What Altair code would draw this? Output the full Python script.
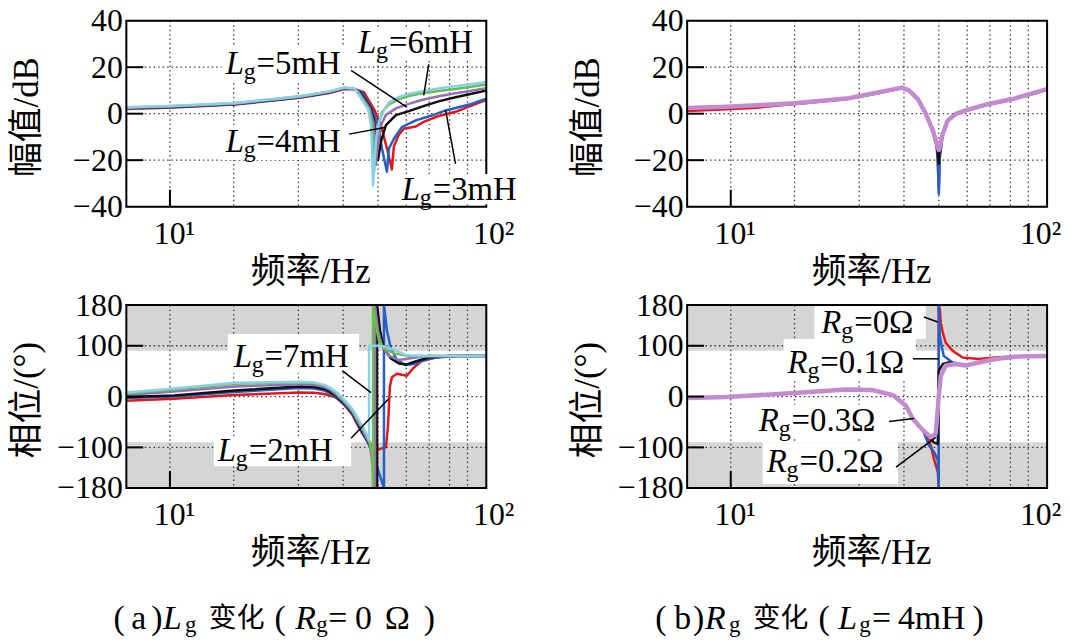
import altair as alt
import pandas as pd

FONT = "Liberation Serif, Noto Sans CJK SC"
W = 362
H_MAG = 187
H_PH = 184
X_DOMAIN = [7.28, 100]
X_GRID = [10, 15.91, 25.47, 35.28, 45.46, 55.88, 66.01, 76.56, 87.22]
X_TICKS = [10, 100]
MAG_DOMAIN = [-40, 40]
MAG_TICKS = [-40, -20, 0, 20, 40]
MAG_GRID = [-20, 0, 20]
PH_DOMAIN = [-180, 180]
PH_TICKS = [-180, -100, 0, 100, 180]
PH_GRID = [-100, 0, 100]
BAND_LO = [90, -180]
BAND_HI = [180, -90]

RED, BLUE, BLACK = "#e3161c", "#2260c8", "#111111"
PURPLE, GREEN, CYAN, PINK = "#9a6db5", "#66c04a", "#86d0ee", "#c48ad0"

# ---------------- (a) magnitude, Lg = 2..7 mH ----------------
a_mag_f_7 = [7.28, 10.30, 16.03, 25.66, 31.88, 35.53, 38.21, 39.04, 42.29, 43.21, 43.54, 43.85, 44.81, 45.80, 47.49, 49.24, 52.93, 56.90, 62.52, 70.70, 79.95, 89.80, 100]
a_mag_db_7 = [2.8, 3.4, 4.6, 7.5, 9.6, 11.3, 10.9, 9.2, 2.0, -5.0, -15.0, -31.0, -11.0, -3.6, 1.5, 4.9, 7.2, 8.5, 9.6, 10.9, 11.8, 12.7, 13.6]
a_mag_f_6 = [7.28, 10.30, 16.03, 25.66, 31.88, 35.53, 38.21, 39.33, 42.60, 43.54, 43.85, 44.18, 44.81, 45.80, 46.80, 49.24, 52.93, 56.90, 62.52, 70.70, 79.95, 89.80, 100]
a_mag_db_6 = [2.7, 3.3, 4.5, 7.4, 9.5, 11.2, 10.8, 9.2, 2.0, -5.0, -15.0, -25.0, -12.0, -4.0, 0.7, 4.0, 6.3, 7.6, 8.8, 9.8, 10.6, 11.6, 12.6]
a_mag_f_5 = [7.28, 10.30, 16.03, 25.66, 31.88, 35.53, 38.21, 39.62, 42.90, 44.18, 44.49, 44.81, 45.46, 46.45, 48.17, 51.80, 56.90, 62.52, 70.70, 79.95, 89.80, 100]
a_mag_db_5 = [2.5, 3.1, 4.3, 7.2, 9.3, 11.0, 10.7, 9.2, 2.0, -5.0, -12.0, -22.0, -12.0, -5.0, -0.5, 2.3, 4.2, 5.9, 7.5, 8.8, 9.9, 11.0]
a_mag_f_4 = [7.28, 10.30, 16.03, 25.66, 31.88, 35.53, 38.21, 39.91, 43.21, 44.49, 45.15, 45.46, 46.45, 48.17, 51.80, 56.90, 64.36, 70.70, 79.95, 89.80, 100]
a_mag_db_4 = [2.4, 3.0, 4.2, 7.1, 9.2, 10.9, 10.7, 9.2, 2.0, -5.0, -15.0, -20.0, -12.0, -4.9, -0.6, 1.1, 3.6, 5.3, 7.1, 8.6, 10.0]
a_mag_f_3 = [7.28, 10.30, 16.03, 25.66, 31.88, 35.53, 38.21, 40.49, 43.54, 45.46, 46.80, 48.53, 49.24, 51.05, 54.09, 59.87, 67.22, 74.37, 89.80, 100]
a_mag_db_3 = [2.3, 2.9, 4.1, 7.0, 9.1, 10.8, 10.6, 9.2, 2.0, -5.0, -15.0, -25.0, -15.0, -10.8, -5.8, -2.9, -0.8, 1.4, 4.2, 6.5]
a_mag_f_2 = [7.28, 10.30, 16.03, 25.66, 31.88, 35.53, 38.21, 41.08, 44.18, 46.45, 48.53, 50.32, 51.05, 52.93, 54.88, 59.87, 63.43, 70.70, 79.95, 89.80, 100]
a_mag_db_2 = [2.0, 2.7, 3.9, 6.8, 8.9, 10.6, 10.5, 9.2, 2.0, -5.0, -15.0, -24.0, -14.0, -9.0, -6.5, -5.5, -3.5, -1.0, 0.8, 3.5, 6.0]

# ---------------- (a) phase ----------------
a_ph_f_low = [7.28, 10.30, 16.03, 25.66, 28.60, 30.74, 32.35, 33.54, 35.53, 37.66, 39.04, 40.49]
a_ph_deg_low_7 = [8, 16, 27, 29, 27.5, 23, 16, 9, -6, -24, -40, -57]
a_ph_deg_low_6 = [6, 14, 25, 28, 26.5, 22, 15, 7, -8, -26, -43, -60]
a_ph_deg_low_5 = [3, 10, 20, 24, 23, 19, 12, 4, -11, -29, -47, -64]
a_ph_deg_low_4 = [-1, 2, 12, 20, 19, 15, 8, 1, -13, -31, -50, -67]
a_ph_deg_low_3 = [-3, 0, 9, 17, 16, 12, 5, -2, -15, -33, -52, -70]
a_ph_deg_low_2 = [-8, -4.5, 3, 8, 7.5, 5, 1, -2, -16, -35, -54, -72]
a_ph_f_7 = [41.98, 42.60, 42.60, 45.80, 48.17, 52.93, 55.68, 61.18, 100]
a_ph_deg_7 = [-76, -86, 100, 100, 98, 88, 82, 80, 80]
a_ph_f_6 = [42.60, 43.54, 43.85, 43.85, 44.81, 45.80, 47.49, 51.05, 56.90, 100]
a_ph_deg_6 = [-85, -110, -180, 180, 140, 110, 95, 85, 80, 80]
a_ph_f_5 = [42.90, 44.49, 44.49, 45.46, 46.80, 49.24, 52.93, 58.16, 65.77, 100]
a_ph_deg_5 = [-95, -180, 180, 130, 100, 80, 72, 76, 80, 80]
a_ph_f_4 = [43.21, 45.15, 45.15, 46.13, 47.49, 49.94, 52.93, 55.68, 58.99, 65.77, 76.01, 100]
a_ph_deg_4 = [-100, -180, 180, 130, 95, 75, 65, 63, 68, 77, 80, 80]
a_ph_f_3 = [43.85, 45.80, 47.49, 47.49, 48.53, 49.94, 52.17, 55.68, 58.99, 65.77, 76.01, 100]
a_ph_deg_3 = [-110, -150, -180, 180, 130, 95, 72, 62, 64, 75, 80, 80]
a_ph_f_2 = [43.21, 45.15, 46.80, 48.17, 48.87, 49.58, 50.32, 52.17, 56.09, 58.99, 62.52, 69.18, 81.72, 100]
a_ph_deg_2 = [-95, -105, -102, -100, -60, 20, 38, 45, 41, 57, 70, 77, 80, 80]

# ---------------- (b) magnitude, Rg = 0..0.3 ohm ----------------
b_mag_f_03 = [7.28, 9.69, 12.08, 15.91, 23.18, 29.44, 34.78, 36.59, 39.04, 41.38, 43.53, 44.80, 45.46, 46.80, 48.52, 51.40, 55.27, 63.89, 77.67, 89.82, 100]
b_mag_db_03 = [2.4, 3.0, 3.6, 4.5, 6.5, 9.2, 11.2, 10.0, 6.3, -0.1, -7.2, -12.9, -15.6, -8.6, -2.9, -0.1, 1.4, 3.9, 6.3, 8.7, 10.6]
b_mag_f = [7.28, 9.69, 12.08, 15.91, 23.18, 29.44, 34.78, 36.59, 39.04, 41.38, 43.53, 44.80, 45.13, 45.46, 45.79, 46.80, 48.52, 51.40, 55.27, 63.89, 77.67, 89.82, 100]
b_mag_db_02 = [2.3, 2.9, 3.5, 4.4, 6.4, 9.1, 11.1, 9.9, 6.2, -0.2, -7.4, -13.5, -17.0, -21.6, -14.0, -8.7, -3.0, -0.2, 1.3, 3.8, 6.2, 8.6, 10.5]
b_mag_db_01 = [2.1, 2.7, 3.3, 4.2, 6.3, 9.0, 11.0, 9.8, 6.1, -0.3, -7.6, -14.0, -20.0, -34.4, -18.0, -8.8, -3.1, -0.3, 1.2, 3.7, 6.1, 8.5, 10.4]
b_mag_db_00 = [1.2, 1.9, 2.6, 4.2, 6.2, 8.9, 10.9, 9.7, 6.0, -0.4, -7.8, -14.5, -21.0, -33.0, -19.0, -8.9, -3.2, -0.4, 1.1, 3.6, 6.0, 8.4, 10.3]

# ---------------- (b) phase ----------------
b_ph_f_low = [7.28, 9.69, 15.91, 23.18, 27.99, 32.58, 35.80, 37.66, 40.49]
b_ph_deg_low = [-3, -1, 7, 14, 13, 3, -18, -44, -66]
b_ph_f_03 = [42.90, 44.48, 45.46, 46.13, 47.82, 51.40, 55.27, 60.73, 68.70, 81.13, 100]
b_ph_deg_03 = [-80, -73, 2, 41, 61, 64, 61, 67, 74, 79, 80]
b_ph_f_02 = [42.90, 43.85, 45.13, 45.46, 46.80, 48.87, 51.40, 55.27, 60.73, 68.70, 81.13, 100]
b_ph_deg_02 = [-84, -90, -93, 51, 64, 67, 65, 62, 67, 74, 79, 80]
b_ph_f_01 = [42.29, 43.85, 45.13, 45.46, 45.46, 45.79, 46.45, 47.14, 50.30, 55.27, 60.73, 68.70, 81.13, 100]
b_ph_deg_01 = [-96, -108, -125, -180, 180, 120, 98, 80, 67, 62, 67, 74, 79, 80]
b_ph_f_00 = [42.90, 43.85, 45.13, 45.46, 45.46, 45.79, 46.13, 46.80, 47.82, 50.30, 54.09, 60.73, 68.70, 77.67, 100]
b_ph_deg_00 = [-96, -122, -148, -180, 180, 172, 145, 126, 106, 90, 77, 74, 77, 79, 81]

# ---------------- annotations ----------------
a_mag_lbl_f = [15.01, 39.33, 15.01, 54.09]
a_mag_lbl_v = [21.2, 30.2, -12.2, -32.7]
a_mag_lbl_txt = ["=5mH", "=6mH", "=4mH", "=3mH"]
a_mag_box = ([14.58, 38.21, 14.58, 52.93], [36.85, 97.2, 36.85, 135.6], [13.5, 22.9, -19.9, -39.1], [28.9, 37.0, -4.9, -25.9])
a_mag_lead = ([65.77, 37.38, 36.85, 79.95], [21.2, 18.6, -8.8, -21.6], [63.43, 56.09, 48.17, 74.37], [7.9, 2.8, -5.8, 1.5])

a_ph_lbl_f = [15.91, 14.17]
a_ph_lbl_v = [78.3, -107.6]
a_ph_lbl_txt = ["=7mH", "=2mH"]
a_ph_box = ([15.24, 13.77], [39.61, 37.38], [46.9, -137.0], [123.3, -78.3])
a_ph_lead = ([35.03, 37.38], [50.9, -82.2], [43.21, 49.24], [7.8, -3.9])

b_ph_lbl_f = [19.34, 15.12, 12.26, 12.99]
b_ph_lbl_v = [144.8, 66.5, -48.9, -129.1]
b_ph_lbl_txt = ["=0Ω", "=0.1Ω", "=0.3Ω", "=0.2Ω"]
b_ph_box = ([18.39, 14.69, 11.91, 12.62], [41.38, 38.48, 30.97, 33.79], [113.5, 35.2, -82.2, -172.0], [180.0, 113.5, -15.7, -90.0])
b_ph_lead = ([40.78, 37.66, 31.65, 33.30], [156.5, 74.3, -48.9, -138.9], [45.13, 45.46, 37.93, 44.48], [146.7, 74.3, -43.0, -80.2])

# caption pieces: (text, style, x offset from the panel's left edge)
cap_a = [("(", "n", -13), ("a", "n", 5), (")", "n", 25), ("L", "i", 37), ("g", "s", 59),
         ("变化", "c", 83), ("(", "n", 149), ("R", "i", 170), ("g", "s", 191), ("=", "n", 203),
         ("0", "n", 230), ("Ω", "n", 260), (")", "n", 299)]
cap_b = [("(", "n", -32), ("b", "n", -13), (")", "n", 6), ("R", "i", 18), ("g", "s", 42),
         ("变化", "c", 66), ("(", "n", 132), ("L", "i", 152), ("g", "s", 173), ("=", "n", 186),
         ("4mH", "n", 212), (")", "n", 287)]


def xenc(field, far_offset):
    return alt.X(field, type="quantitative",
                 scale=alt.Scale(type="log", domain=X_DOMAIN, nice=False),
                 axis=alt.Axis(values=X_TICKS, labelExpr="datum.value < 50 ? '10¹' : '10²'",
                               title="频率/Hz", grid=False, ticks=False, domain=False,
                               labelFont=FONT, labelFontSize=32, labelColor="black", labelPadding=12,
                               labelAlign="center",
                               labelOffset={"condition": {"test": "datum.value > 50", "value": far_offset},
                                            "value": 4},
                               labelBaseline="top", labelFlush=False,
                               labelOverlap=False, titleFont=FONT, titleFontSize=35,
                               titleFontWeight="normal", titleColor="black", titleX=185, titleY=65,
                               titleAlign="center", titleBaseline="middle"))


def yenc(field, dom, ticks, title, h):
    return alt.Y(field, type="quantitative",
                 scale=alt.Scale(domain=dom, nice=False, zero=False),
                 axis=alt.Axis(values=ticks, title=title, grid=False, ticks=False, domain=False,
                               labelFont=FONT, labelFontSize=32, labelColor="black", labelPadding=4,
                               labelFlush=False, labelOverlap=False, titleFont=FONT, titleFontSize=35,
                               titleFontWeight="normal", titleColor="black", titleX=-100, titleY=h / 2 + 3,
                               titleAngle=270, titleAlign="center", titleBaseline="middle"))


def panel(h, dom, ticks, grid, title, curves, phase=False, boxes=None, labels=None, leaders=None,
          head="L", head_w=18, caption=None, anchor=False, far_offset=7):
    X = lambda fld: xenc(fld, far_offset)
    Y = lambda fld: yenc(fld, dom, ticks, title, h)
    one = pd.DataFrame({"k": [0]})
    layers = []
    if anchor:
        layers.append(alt.Chart(one).mark_rect(opacity=0).encode(
            x=alt.value(-130), x2=alt.value(-129), y=alt.value(-40), y2=alt.value(-39)))
    if phase:
        bd = pd.DataFrame({"f": [X_DOMAIN[0]] * 2, "f2": [X_DOMAIN[1]] * 2, "v": BAND_LO, "v2": BAND_HI})
        layers.append(alt.Chart(bd).mark_rect(color="#d5d5d5").encode(
            x=X("f"), x2="f2", y=Y("v"), y2="v2"))
    gstyle = dict(color="#3a3a3a", strokeDash=[1.5, 3], strokeWidth=1.3)
    layers.append(alt.Chart(pd.DataFrame({"f": X_GRID})).mark_rule(**gstyle).encode(x=X("f")))
    layers.append(alt.Chart(pd.DataFrame({"v": grid})).mark_rule(**gstyle).encode(y=Y("v")))
    box_layer = None
    if boxes is not None:
        bx = pd.DataFrame({"f": boxes[0], "f2": boxes[1], "v": boxes[2], "v2": boxes[3]})
        box_layer = alt.Chart(bx).mark_rect(color="white").encode(x=X("f"), x2="f2", y=Y("v"), y2="v2")
        if phase:
            layers.append(box_layer)
    for f, v, col, sw in curves:
        df = pd.DataFrame({"f": f, "v": v, "i": list(range(len(f)))})
        layers.append(alt.Chart(df).mark_line(color=col, strokeWidth=sw, clip=True,
                                              strokeJoin="round").encode(
            x=X("f"), y=Y("v"), order="i:Q"))
    # frame and inward ticks
    layers.append(alt.Chart(one).mark_rect(fillOpacity=0, stroke="black", strokeWidth=2).encode(
        x=alt.value(0), x2=alt.value(W), y=alt.value(0), y2=alt.value(h)))
    layers.append(alt.Chart(pd.DataFrame({"v": grid})).mark_rule(color="black", strokeWidth=2).encode(
        y=Y("v"), x=alt.value(0), x2=alt.value(17)))
    layers.append(alt.Chart(pd.DataFrame({"f": [10]})).mark_rule(color="black", strokeWidth=2).encode(
        x=X("f"), y=alt.value(h), y2=alt.value(h - 17)))
    if box_layer is not None and not phase:
        layers.append(box_layer)
    if leaders is not None:
        ld = pd.DataFrame({"f": leaders[0], "v": leaders[1], "f2": leaders[2], "v2": leaders[3]})
        layers.append(alt.Chart(ld).mark_rule(color="black", strokeWidth=1.5).encode(
            x=X("f"), x2="f2", y=Y("v"), y2="v2"))
    if labels is not None:
        lb = pd.DataFrame({"f": labels[0], "v": labels[1], "t": labels[2]})
        base = alt.Chart(lb)
        layers.append(base.mark_text(text=head, font=FONT, fontSize=33, fontStyle="italic", align="left",
                                     baseline="middle", color="black").encode(x=X("f"), y=Y("v")))
        layers.append(base.mark_text(text="g", font=FONT, fontSize=24, align="left", baseline="middle",
                                     dx=head_w, dy=8, color="black").encode(x=X("f"), y=Y("v")))
        layers.append(base.mark_text(font=FONT, fontSize=33, align="left", baseline="middle",
                                     dx=head_w + 13, color="black").encode(x=X("f"), y=Y("v"), text="t:N"))
    if caption is not None:
        for txt, kind, px in caption:
            if kind == "i":
                m = alt.Chart(one).mark_text(text=txt, font=FONT, fontSize=34, fontStyle="italic",
                                             align="left", baseline="middle", color="black")
            elif kind == "s":
                m = alt.Chart(one).mark_text(text=txt, font=FONT, fontSize=23, align="left",
                                             baseline="middle", dy=6, color="black")
            elif kind == "c":
                m = alt.Chart(one).mark_text(text=txt, font="Noto Sans CJK SC", fontSize=28, align="left",
                                             baseline="middle", color="black")
            else:
                m = alt.Chart(one).mark_text(text=txt, font=FONT, fontSize=34, align="left",
                                             baseline="middle", color="black")
            layers.append(m.encode(x=alt.value(px), y=alt.value(316)))
    return alt.layer(*layers).properties(width=W, height=h)


tl = panel(H_MAG, MAG_DOMAIN, MAG_TICKS, MAG_GRID, "幅值/dB",
           [(a_mag_f_2, a_mag_db_2, RED, 2.5), (a_mag_f_3, a_mag_db_3, BLUE, 2.5),
            (a_mag_f_4, a_mag_db_4, BLACK, 2.5), (a_mag_f_5, a_mag_db_5, PURPLE, 2.5),
            (a_mag_f_6, a_mag_db_6, GREEN, 2.5), (a_mag_f_7, a_mag_db_7, CYAN, 2.5)],
           boxes=a_mag_box, labels=(a_mag_lbl_f, a_mag_lbl_v, a_mag_lbl_txt), leaders=a_mag_lead,
           anchor=True, far_offset=7)

tr = panel(H_MAG, MAG_DOMAIN, MAG_TICKS, MAG_GRID, "幅值/dB",
           [(b_mag_f, b_mag_db_00, RED, 2.5), (b_mag_f, b_mag_db_01, BLUE, 2.5),
            (b_mag_f, b_mag_db_02, BLACK, 2.5), (b_mag_f_03, b_mag_db_03, PINK, 4.5)],
           far_offset=-7)

bl = panel(H_PH, PH_DOMAIN, PH_TICKS, PH_GRID, "相位/(°)",
           [(a_ph_f_low + a_ph_f_2, a_ph_deg_low_2 + a_ph_deg_2, RED, 2.5),
            (a_ph_f_low + a_ph_f_3, a_ph_deg_low_3 + a_ph_deg_3, BLUE, 2.5),
            (a_ph_f_low + a_ph_f_4, a_ph_deg_low_4 + a_ph_deg_4, BLACK, 2.5),
            (a_ph_f_low + a_ph_f_5, a_ph_deg_low_5 + a_ph_deg_5, PURPLE, 2.5),
            (a_ph_f_low + a_ph_f_6, a_ph_deg_low_6 + a_ph_deg_6, GREEN, 2.5),
            (a_ph_f_low + a_ph_f_7, a_ph_deg_low_7 + a_ph_deg_7, CYAN, 2.5)],
           phase=True, boxes=a_ph_box, labels=(a_ph_lbl_f, a_ph_lbl_v, a_ph_lbl_txt),
           leaders=a_ph_lead, caption=cap_a, far_offset=7)

br = panel(H_PH, PH_DOMAIN, PH_TICKS, PH_GRID, "相位/(°)",
           [(b_ph_f_low + b_ph_f_00, b_ph_deg_low + b_ph_deg_00, RED, 2.5),
            (b_ph_f_low + b_ph_f_01, b_ph_deg_low + b_ph_deg_01, BLUE, 2.5),
            (b_ph_f_low + b_ph_f_02, b_ph_deg_low + b_ph_deg_02, BLACK, 2.5),
            (b_ph_f_low + b_ph_f_03, b_ph_deg_low + b_ph_deg_03, PINK, 4.5)],
           phase=True, boxes=b_ph_box, labels=(b_ph_lbl_f, b_ph_lbl_v, b_ph_lbl_txt),
           leaders=b_ph_lead, head="R", head_w=20, caption=cap_b, far_offset=-7)

chart = alt.concat(tl, tr, bl, br, columns=2, spacing={"row": 99, "column": 202}, bounds="flush").properties(
    padding={"left": -12, "top": -30, "right": 0, "bottom": -3}
).configure_view(strokeWidth=0).configure(background="white")

chart.save("out.html", embed_options={"renderer": "svg", "actions": False})
